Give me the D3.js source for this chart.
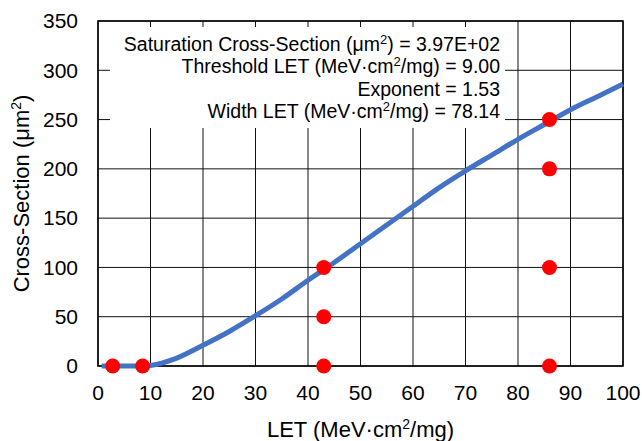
<!DOCTYPE html>
<html>
<head>
<meta charset="utf-8">
<script src="https://cdn.jsdelivr.net/npm/d3@7"></script>
<style>
  body { margin: 0; background: #fff; }
  svg { display: block; font-family: 'Liberation Sans', Arial, sans-serif; }
</style>
</head>
<body>
<svg class="chart" width="642" height="441"></svg>
<script>
// measured points
const pointLet = [2.8, 8.5, 43, 43, 43, 86, 86, 86, 86]
const pointSigma = [0, 0, 0, 50, 100, 0, 100, 200, 250]

// fitted curve
const curveLet = [0.7, 5, 9, 10, 15, 20, 25, 30, 35, 40, 45, 50, 55, 60, 65, 70, 75, 80, 85, 90, 95, 100]
const curveSigma = [0, 0, 0, 0.5, 8, 21, 35, 51, 68, 87, 105, 124, 143, 162, 181, 198, 214, 230, 245, 260, 273, 286]

// fit parameters box
const fitLabels = ['Saturation Cross-Section (μm', 'Threshold LET (MeV·cm', 'Exponent', 'Width LET (MeV·cm']
const fitSup = ['2', '2', '', '2']
const fitSuffix = [')', '/mg)', '', '/mg)']
const fitValues = ['3.97E+02', '9.00', '1.53', '78.14']

const svg = d3.select('.chart'),
  margin = { top: 21, right: 19, bottom: 75, left: 98 },
  width = 642 - margin.left - margin.right,
  height = 441 - margin.top - margin.bottom

const x = d3.scaleLinear().domain([0, 100]).range([0, width])
const y = d3.scaleLinear().domain([0, 350]).range([height, 0])

const g = svg.append('g')
  .attr('transform', 'translate(' + margin.left + ',' + margin.top + ')')

// grid
g.append('g')
  .selectAll('line')
  .data(x.ticks(10))
  .enter().append('line')
  .attr('x1', d => x(d)).attr('x2', d => x(d))
  .attr('y1', 0).attr('y2', height)
  .attr('stroke', '#111').attr('stroke-width', 1)

g.append('g')
  .selectAll('line')
  .data(y.ticks(7))
  .enter().append('line')
  .attr('x1', 0).attr('x2', width)
  .attr('y1', d => y(d)).attr('y2', d => y(d))
  .attr('stroke', '#111').attr('stroke-width', 1)

// white box behind the fit text
g.append('rect')
  .attr('x', 110 - margin.left).attr('y', 27 - margin.top)
  .attr('width', 395).attr('height', 101)
  .attr('fill', '#fff')

// border
g.append('rect')
  .attr('width', width).attr('height', height)
  .attr('fill', 'none').attr('stroke', '#000').attr('stroke-width', 1.5)

// tick labels
g.append('g')
  .selectAll('text')
  .data(x.ticks(10))
  .enter().append('text')
  .attr('x', d => x(d))
  .attr('y', height + 34)
  .attr('text-anchor', 'middle')
  .style('font-size', '21px')
  .text(d => d)

g.append('g')
  .selectAll('text')
  .data(y.ticks(7))
  .enter().append('text')
  .attr('x', -20)
  .attr('y', d => y(d))
  .attr('dy', '0.35em')
  .attr('text-anchor', 'end')
  .style('font-size', '21px')
  .text(d => d)

// axis titles
const xt = svg.append('text')
  .attr('x', margin.left + width / 2)
  .attr('y', 437)
  .attr('text-anchor', 'middle')
  .style('font-size', '22px')
xt.append('tspan').text('LET (MeV·cm')
xt.append('tspan').attr('dy', -8).style('font-size', '14px').text('2')
xt.append('tspan').attr('dy', 8).text('/mg)')

const yt = svg.append('text')
  .attr('transform', 'translate(29,' + (margin.top + height / 2) + ') rotate(-90)')
  .attr('text-anchor', 'middle')
  .style('font-size', '22px')
yt.append('tspan').text('Cross-Section (μm')
yt.append('tspan').attr('dy', -8).style('font-size', '14px').text('2')
yt.append('tspan').attr('dy', 8).text(')')

// fit text
fitLabels.forEach((lab, i) => {
  const t = svg.append('text')
    .attr('x', 500)
    .attr('y', 51 + i * 22.4)
    .attr('text-anchor', 'end')
    .style('font-size', '19.5px')
  t.append('tspan').text(lab)
  if (fitSup[i]) {
    t.append('tspan').attr('dy', -7).style('font-size', '13px').text(fitSup[i])
    t.append('tspan').attr('dy', 7).text(fitSuffix[i])
  }
  t.append('tspan').text(' = ' + fitValues[i])
})

// curve
const curveData = curveLet.map((d, i) => ({ let: d, sigma: curveSigma[i] }))
g.append('path')
  .datum(curveData)
  .attr('fill', 'none')
  .attr('stroke', '#4472C4')
  .attr('stroke-width', 5)
  .attr('d', d3.line().x(d => x(d.let)).y(d => y(d.sigma)).curve(d3.curveMonotoneX))

// points
g.selectAll('.pt')
  .data(pointLet.map((d, i) => ({ let: d, sigma: pointSigma[i] })))
  .enter().append('circle')
  .attr('class', 'pt')
  .attr('cx', d => x(d.let))
  .attr('cy', d => y(d.sigma))
  .attr('r', 7.5)
  .attr('fill', '#FF0000')
</script>
</body>
</html>
